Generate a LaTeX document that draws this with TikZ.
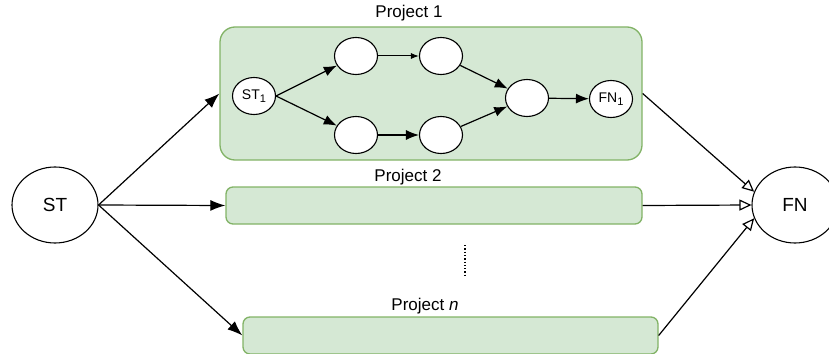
\documentclass[tikz,border=0pt]{standalone}
\usepackage{fontspec}
\setmainfont{Liberation Sans}
\usepackage{tikz}
\usetikzlibrary{positioning,arrows.meta,calc,shapes.geometric}
\definecolor{projfill}{HTML}{D5E8D4}
\definecolor{projline}{HTML}{82B366}
\newcommand{\lowsub}[1]{\raisebox{-3pt}{\fontsize{11}{12}\selectfont #1}}
\tikzset{
    x=1pt,
    y=-1pt,
    bigstate/.style = {
        draw,
        shape=ellipse,
        minimum width=86,
        minimum height=76,
        line width=1.1pt,
        inner sep=0pt,
        font=\fontsize{19}{21}\selectfont
    },
    taskstate/.style = {
        draw,
        fill=white,
        shape=ellipse,
        minimum width=43,
        minimum height=37,
        line width=1.1pt,
        inner sep=0pt,
        font=\fontsize{14}{16}\selectfont
    },
    project/.style = {
        draw=projline,
        fill=projfill,
        shape=rectangle,
        rounded corners=7pt,
        line width=1.3pt
    },
    projtitle/.style = {
        shape=rectangle,
        inner sep=0pt,
        font=\fontsize{17}{20}\selectfont
    },
    link/.style = {
        draw,
        line width=1.2pt,
        -{Latex[length=15pt,width=11pt]}
    },
    sublink/.style = {
        draw,
        line width=1.2pt,
        -{Latex[length=13pt,width=10pt]}
    },
    mergelink/.style = {
        draw,
        line width=1.2pt,
        -{Triangle[open,length=12pt,width=11pt]}
    },
}

\begin{document}
\begin{tikzpicture}
            \useasboundingbox (0,0) rectangle (829,353);
            \node[bigstate] (st) at (55,205) {ST};
            \node[bigstate] (fn) at (795,205) {FN};

            \node[project, rounded corners=15pt, minimum width=422, minimum height=133] (proj1) at (431,93.5) {};
            \node[project, minimum width=416, minimum height=37] (proj2) at (434,205.5) {};
            \node[project, minimum width=415, minimum height=37] (projn) at (450.5,335.5) {};
            \node[projtitle] (proj1title) at (409,13) {Project 1};
            \node[projtitle] (proj2title) at (408,177) {Project 2};
            \node[projtitle] (projntitle) at (425,306) {Project \textit{n}};
            \draw[dotted, line width=1.3pt] (465,245) -- (465,276);

            \node[taskstate] (st1) at (254,96) {ST\lowsub{1}};
            \node[taskstate] (top1) at (356,56) {};
            \node[taskstate] (top2) at (441,56) {};
            \node[taskstate] (bot1) at (356,135) {};
            \node[taskstate] (bot2) at (441,135) {};
            \node[taskstate] (merge) at (527,98) {};
            \node[taskstate] (fn1) at (611,99) {FN\lowsub{1}};

            \path[sublink] (st1.east) -- (top1);
            \path[sublink] (st1.east) -- (bot1);
            \path[draw, line width=1pt, -{Latex[length=8pt,width=6pt]}] (top1) -- (top2);
            \path[sublink] (bot1) -- (bot2);
            \path[sublink] (top2) -- (merge);
            \path[sublink] (bot2) -- (merge);
            \path[sublink] (merge) -- (fn1);

            \path[link] (st.east) -- (proj1.west);
            \path[link] (st.east) -- (proj2.west);
            \path[link] (st.east) -- (projn.west);
            \path[mergelink] (proj1.east) -- (fn.162);
            \path[mergelink] (proj2.east) -- (fn.west);
            \path[mergelink] (projn.east) -- (fn.198);
        \end{tikzpicture}
\end{document}
